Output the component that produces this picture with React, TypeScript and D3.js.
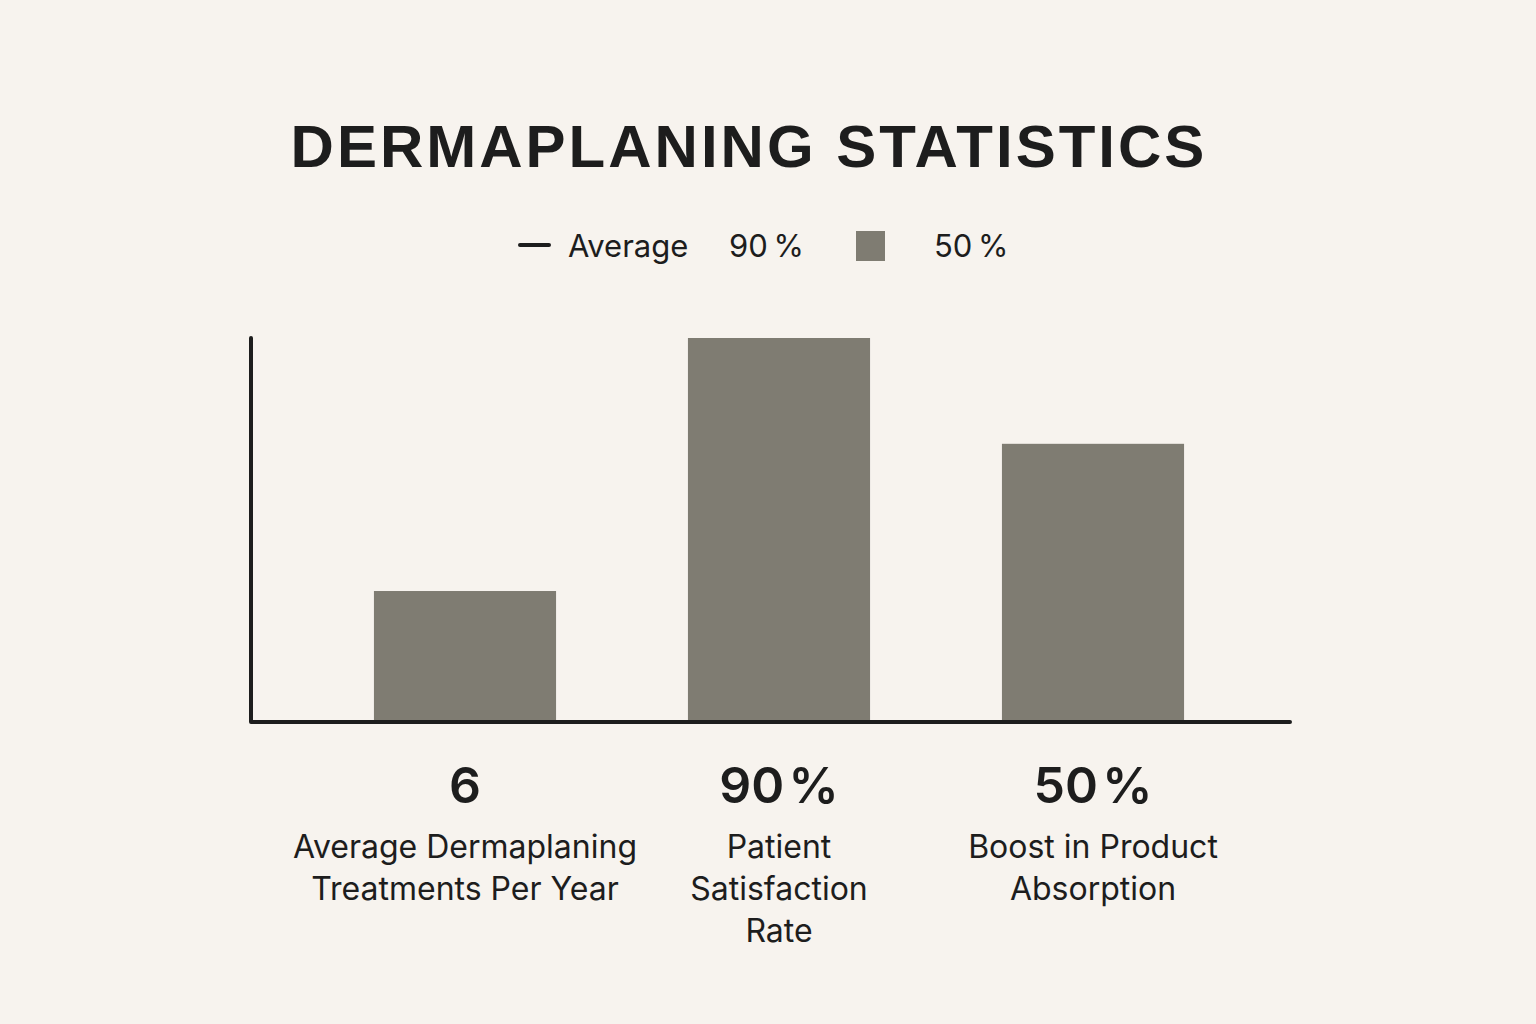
import * as React from 'react'
import { useEffect, useRef } from 'react'
import * as d3 from 'd3'

const categories = ['treatments', 'satisfaction', 'absorption']
const barValues = [30.7, 90, 65.2]
const valueLabels = ['6', '90\u200a%', '50\u200a%']
const categoryLabels = [
  ['Average Dermaplaning', 'Treatments Per Year'],
  ['Patient', 'Satisfaction', 'Rate'],
  ['Boost in Product', 'Absorption'],
]
const legendItems = ['Average', '90\u2009%', '50\u2009%']

const WIDTH = 1536
const HEIGHT = 1024
const BG = '#f7f3ee'
const BAR = '#7f7c72'
const INK = '#1d1d1d'
const SANS = 'Inter, "Noto Sans", sans-serif'

export default function App() {
  const svgRef = useRef<SVGSVGElement>(null)

  useEffect(() => {
    if (!svgRef.current) return
    const svg = d3.select(svgRef.current)
    svg.selectAll('*').remove()

    const axisLeft = 251
    const axisRight = 1290
    const axisBottom = 722
    const axisTop = 338

    svg.append('rect')
      .attr('width', WIDTH)
      .attr('height', HEIGHT)
      .attr('fill', BG)

    // Title
    svg.append('text')
      .attr('x', 749)
      .attr('y', 167)
      .attr('text-anchor', 'middle')
      .attr('font-family', '"Liberation Sans", Arial, sans-serif')
      .attr('font-weight', 700)
      .attr('font-size', '60px')
      .attr('letter-spacing', '3px')
      .attr('fill', INK)
      .text('DERMAPLANING STATISTICS')

    // Legend
    const legend = svg.append('g')
    legend.append('line')
      .attr('x1', 520).attr('x2', 549)
      .attr('y1', 245).attr('y2', 245)
      .attr('stroke', INK)
      .attr('stroke-width', 4)
      .attr('stroke-linecap', 'round')
    const legendX = [568, 729, 934]
    legendItems.forEach((t, i) => {
      legend.append('text')
        .attr('x', legendX[i])
        .attr('y', 257)
        .attr('font-family', SANS)
        .attr('font-size', '31px')
        .attr('fill', INK)
        .text(t)
    })
    legend.append('rect')
      .attr('x', 856).attr('y', 231)
      .attr('width', 29).attr('height', 30)
      .attr('fill', BAR)

    const xScale = d3.scaleBand()
      .domain(categories)
      .range([308, 1250])
      .paddingInner(0.42)
      .paddingOuter(0.21)

    const yScale = d3.scaleLinear()
      .domain([0, 90])
      .range([axisBottom, axisTop])

    // Bars
    svg.append('g')
      .selectAll('rect')
      .data(barValues)
      .join('rect')
      .attr('x', (_, i) => xScale(categories[i])!)
      .attr('y', d => yScale(d))
      .attr('width', xScale.bandwidth())
      .attr('height', d => axisBottom - yScale(d))
      .attr('fill', BAR)

    // Axes
    svg.append('path')
      .attr('d', `M${axisLeft},${axisTop}V${axisBottom}H${axisRight}`)
      .attr('fill', 'none')
      .attr('stroke', INK)
      .attr('stroke-width', 4)
      .attr('stroke-linecap', 'round')
      .attr('stroke-linejoin', 'round')

    // Value + category labels
    categories.forEach((c, i) => {
      const cx = xScale(c)! + xScale.bandwidth() / 2
      svg.append('text')
        .attr('x', cx)
        .attr('y', 803)
        .attr('text-anchor', 'middle')
        .attr('font-family', SANS)
        .attr('font-weight', 600)
        .attr('font-size', '50px')
        .attr('fill', INK)
        .text(valueLabels[i])

      categoryLabels[i].forEach((line, j) => {
        svg.append('text')
          .attr('x', cx)
          .attr('y', 858 + j * 42)
          .attr('text-anchor', 'middle')
          .attr('font-family', SANS)
          .attr('font-size', '32px')
          .attr('fill', INK)
          .text(line)
      })
    })
  }, [])

  return (
    <svg
      ref={svgRef}
      width={WIDTH}
      height={HEIGHT}
      style={{ display: 'block', position: 'absolute', left: 0, top: 0 }}
    />
  )
}
